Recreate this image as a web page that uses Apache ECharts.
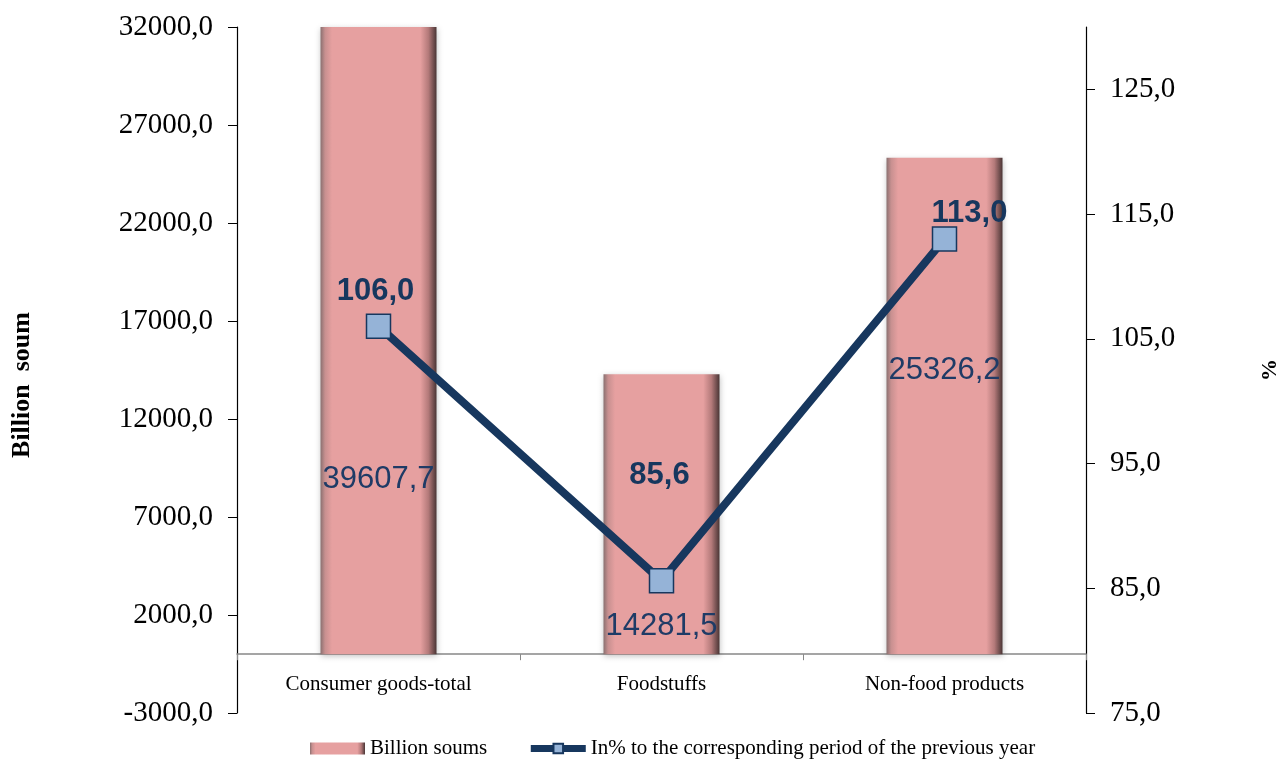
<!DOCTYPE html>
<html><head><meta charset="utf-8">
<script src="https://cdn.jsdelivr.net/npm/echarts@6/dist/echarts.min.js"></script>
<style>html,body{margin:0;padding:0;background:#fff}#c{width:1284px;height:760px}</style>
</head><body><div id="c"></div>
<script>
const categories = ['Consumer goods-total', 'Foodstuffs', 'Non-food products'];
const billionSoums = [39607.7, 14281.5, 25326.2];
const percentPrev = [106.0, 85.6, 113.0];
const seriesNames = ['Billion soums', 'In% to the corresponding period of the previous year'];
const leftAxisName = 'Billion  soum';
const rightAxisName = '%';

const fmt1 = v => v.toFixed(1).replace('.', ',');
const navy = '#17375E';
const serif = 'Liberation Serif';
const sans = 'Liberation Sans';

const barLabelOffsets = [[0, 139], [0, 112], [0, -36]];
const lineLabelOffsets = [[-3, -35], [-2, -105], [25, -26]];

const barFill = {
  type: 'linear', x: 0, y: 0, x2: 1, y2: 0,
  colorStops: [
    {offset: 0, color: '#8a7070'},
    {offset: 0.04, color: '#c89090'},
    {offset: 0.1, color: '#e6a0a0'},
    {offset: 0.86, color: '#e6a0a0'},
    {offset: 0.93, color: '#b47a7a'},
    {offset: 1, color: '#4a3535'}
  ]
};

const chart = echarts.init(document.getElementById('c'));
chart.setOption({
  animation: false,
  backgroundColor: '#fff',
  grid: {left: 237, right: 198, top: 27, bottom: 47, containLabel: false, outerBoundsMode: 'none'},
  legend: {
    bottom: -4, left: 305, itemGap: 40, itemWidth: 55, itemHeight: 12,
    textStyle: {fontFamily: serif, fontSize: 21, color: '#000'},
    data: [
      {name: seriesNames[0], icon: 'rect'},
      {name: seriesNames[1], lineStyle: {width: 7, color: navy}}
    ]
  },
  xAxis: {
    type: 'category', data: categories,
    axisLine: {onZero: true, onZeroAxisIndex: 0, lineStyle: {color: '#888', width: 1.5}},
    axisTick: {show: true, length: 6, lineStyle: {color: '#888'}},
    axisLabel: {fontFamily: serif, fontSize: 21, color: '#000', margin: -39}
  },
  yAxis: [{
    type: 'value', min: -3000, max: 32000, interval: 5000,
    name: leftAxisName, nameLocation: 'middle', nameGap: 202, nameRotate: 90,
    nameTextStyle: {fontFamily: serif, fontWeight: 'bold', fontSize: 26, color: '#000', padding: [0, 30, 0, 0]},
    axisLine: {show: true, lineStyle: {color: '#000', width: 1.2}},
    axisTick: {show: true, length: 9, lineStyle: {color: '#000'}},
    splitLine: {show: false},
    axisLabel: {fontFamily: serif, fontSize: 29, color: '#000', margin: 24, formatter: v => fmt1(v)}
  }, {
    type: 'value', min: 75, max: 130, interval: 10,
    name: rightAxisName, nameLocation: 'middle', nameGap: 173, nameRotate: 90,
    nameTextStyle: {fontFamily: serif, fontWeight: 'bold', fontSize: 22, color: '#000'},
    axisLine: {show: true, lineStyle: {color: '#000', width: 1.2}},
    axisTick: {show: true, length: 9, lineStyle: {color: '#000'}},
    splitLine: {show: false},
    axisLabel: {fontFamily: serif, fontSize: 29, color: '#000', margin: 24, showMaxLabel: false,
      formatter: v => (v === 130 ? '' : fmt1(v))}
  }],
  series: [{
    name: seriesNames[0], type: 'bar', yAxisIndex: 0, barWidth: 116,
    itemStyle: {color: barFill, shadowBlur: 6, shadowColor: 'rgba(0,0,0,0.25)', shadowOffsetY: 2},
    data: billionSoums.map((v, i) => ({
      value: v,
      label: {show: true, position: 'inside', offset: barLabelOffsets[i],
        formatter: p => fmt1(p.value), fontFamily: sans, fontSize: 31, color: '#1F3B66'}
    }))
  }, {
    name: seriesNames[1], type: 'line', yAxisIndex: 1, z: 5,
    symbol: 'rect', symbolSize: 24,
    lineStyle: {color: navy, width: 8},
    itemStyle: {color: '#95B3D7', borderColor: navy, borderWidth: 1.5},
    data: percentPrev.map((v, i) => ({
      value: v,
      label: {show: true, position: 'inside', offset: lineLabelOffsets[i],
        formatter: p => fmt1(p.value), fontFamily: sans, fontWeight: 'bold', fontSize: 31, color: navy}
    }))
  }]
});
</script></body></html>
